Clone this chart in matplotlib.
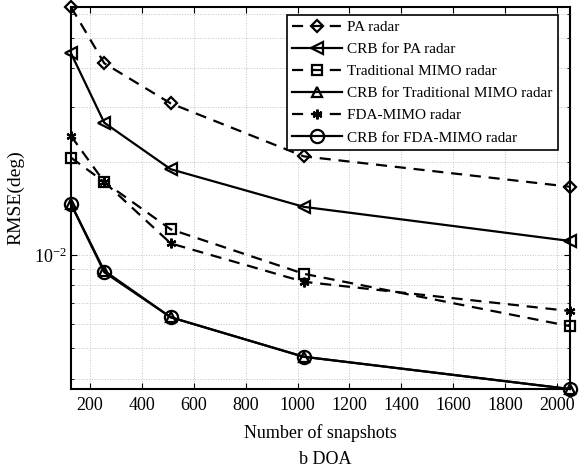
import matplotlib.pyplot as plt
import numpy as np
from matplotlib.ticker import LogLocator, LogFormatterMathtext, NullFormatter, MultipleLocator

plt.rcParams['font.family'] = ['Liberation Serif', 'DejaVu Serif']
plt.rcParams['mathtext.fontset'] = 'custom'
plt.rcParams['mathtext.rm'] = 'Liberation Serif'
plt.rcParams['mathtext.it'] = 'Liberation Serif:italic'

# Pocet snapshotu a RMSE odhadu DOA
snapshots = [128, 256, 512, 1024, 2048]
pa_radar = [0.0630, 0.0415, 0.0308, 0.0208, 0.0166]
crb_pa = [0.0447, 0.0267, 0.0189, 0.0143, 0.0111]
mimo_radar = [0.0206, 0.0172, 0.0121, 0.0087, 0.0059]
crb_mimo = [0.0146, 0.0089, 0.0063, 0.0047, 0.0037]
fda_mimo = [0.0242, 0.0172, 0.0109, 0.0082, 0.0066]
crb_fda = [0.0146, 0.0088, 0.0063, 0.0047, 0.0037]

labels = ['PA radar', 'CRB for PA radar', 'Traditional MIMO radar',
          'CRB for Traditional MIMO radar', 'FDA-MIMO radar', 'CRB for FDA-MIMO radar']

series = [pa_radar, crb_pa, mimo_radar, crb_mimo, fda_mimo, crb_fda]
markers = ['D', '<', 's', '^', (6, 2, 0), 'o']
msizes = [6.5, 9, 7, 7, 7, 9.5]
dashed = [True, False, True, False, True, False]

fig = plt.figure(figsize=(5.84, 4.67), dpi=100)
ax = fig.add_axes([0.1216, 0.167, 0.854, 0.818])

for y, lab, m, ms, d in zip(series, labels, markers, msizes, dashed):
    line, = ax.semilogy(snapshots, y, color='black', lw=1.6, marker=m, ms=ms,
                        mfc='none', mec='black', mew=1.6, label=lab, clip_on=False)
    if d:
        line.set_dashes((5, 3.5))

ax.set_xlim(128, 2048)
ax.set_ylim(0.0037, 0.063)
ax.xaxis.set_major_locator(MultipleLocator(200))
ax.yaxis.set_major_locator(LogLocator(base=10))
ax.yaxis.set_minor_locator(LogLocator(base=10, subs=np.arange(2, 10)))
ax.yaxis.set_major_formatter(LogFormatterMathtext())
ax.yaxis.set_minor_formatter(NullFormatter())

ax.grid(True, which='major', ls=':', color='#c4c4c4', lw=0.7)
ax.grid(True, which='minor', axis='y', ls=':', color='#c4c4c4', lw=0.7)
ax.tick_params(which='both', direction='in', top=True, right=True, labelsize=13)
ax.tick_params(which='major', length=4)
ax.tick_params(axis='x', which='major', pad=6)
ax.tick_params(axis='y', which='major', pad=3)
ax.tick_params(which='minor', length=2.5)
for s in ax.spines.values():
    s.set_linewidth(1.5)

ax.set_xlabel('Number of snapshots', fontsize=13, labelpad=7)
ax.set_ylabel('RMSE(deg)', fontsize=14, labelpad=7)
fig.text(0.557, 0.015, 'b DOA', ha='center', va='center', fontsize=13)

leg = ax.legend(loc='upper right', bbox_to_anchor=(0.976, 0.979), fontsize=11,
                handlelength=3.3, fancybox=False, edgecolor='black',
                framealpha=1, borderpad=0.35, labelspacing=0.55,
                handletextpad=0.3, borderaxespad=0)
leg.get_frame().set_linewidth(1.2)

plt.savefig('out.png', dpi=100)
